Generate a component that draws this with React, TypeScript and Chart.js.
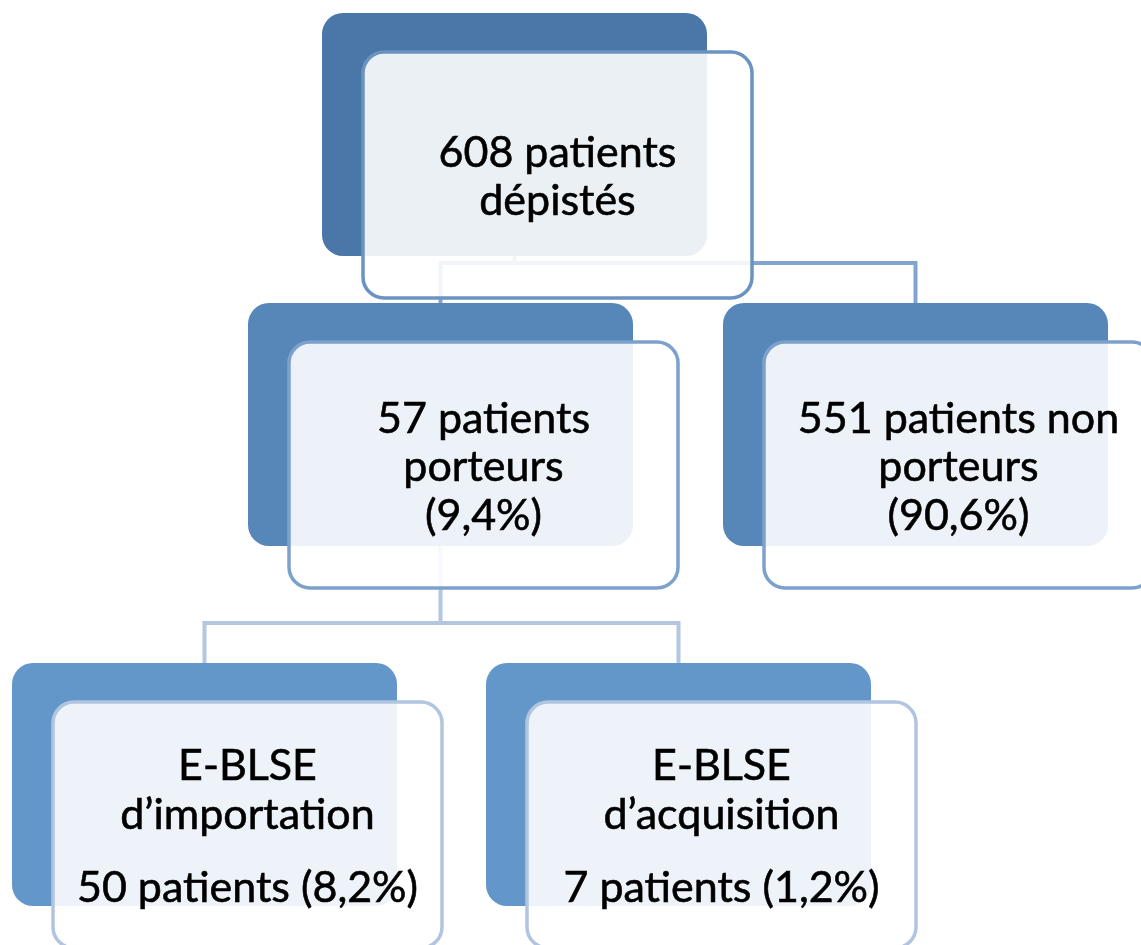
import React, { useEffect, useRef } from 'react';
import { Chart, registerables } from 'chart.js';

Chart.register(...registerables);

// ---------- DATA ----------
const nodeNames = ['dépistés', 'porteurs', 'non porteurs', 'E-BLSE d’importation', 'E-BLSE d’acquisition'];
const patientCounts = [608, 57, 551, 50, 7];
const patientPercents: (number | null)[] = [null, 9.4, 90.6, 8.2, 1.2];
const parentOf = [-1, 0, 0, 1, 1];

const fmtPct = (v: number) => '(' + v.toFixed(1).replace('.', ',') + '%)';

// text lines of each node, built from the data ('' = paragraph gap)
const nodeLines: string[][] = [
  [`${patientCounts[0]} patients`, nodeNames[0]],
  [`${patientCounts[1]} patients`, nodeNames[1], fmtPct(patientPercents[1] as number)],
  [`${patientCounts[2]} patients non`, 'porteurs', fmtPct(patientPercents[2] as number)],
  ['E-BLSE', 'd’importation', '', `${patientCounts[3]} patients ${fmtPct(patientPercents[3] as number)}`],
  ['E-BLSE', 'd’acquisition', '', `${patientCounts[4]} patients ${fmtPct(patientPercents[4] as number)}`],
];

// ---------- LAYOUT / STYLE (kept apart from the data) ----------
const W = 1141;
const H = 945;
const backX = [322, 248, 723, 12, 486];
const backY = [13, 303, 303, 663, 663];
const BACK_W = 385;
const BACK_H = 243;
const FRONT_DX = 41;
const FRONT_DY = 39;
const FRONT_W = 389;
const FRONT_H = 246;
const RADIUS = 21;
const backColors = ['#4a77a7', '#5786b8', '#5786b8', '#6396c9', '#6396c9'];
const frontStroke = ['#6b93c1', '#7da1cb', '#7da1cb', '#b1c5e0', '#b1c5e0'];
const connectorColors = ['#82a5cf', '#b4c6e0'];
const FONT = '43px Lato, "Open Sans", sans-serif';
const LINE_PITCH = 48.5;
const CAP = 30;

function roundRectPath(ctx: CanvasRenderingContext2D, x: number, y: number, w: number, h: number, r: number) {
  ctx.beginPath();
  ctx.moveTo(x + r, y);
  ctx.lineTo(x + w - r, y);
  ctx.arcTo(x + w, y, x + w, y + r, r);
  ctx.lineTo(x + w, y + h - r);
  ctx.arcTo(x + w, y + h, x + w - r, y + h, r);
  ctx.lineTo(x + r, y + h);
  ctx.arcTo(x, y + h, x, y + h - r, r);
  ctx.lineTo(x, y + r);
  ctx.arcTo(x, y, x + r, y, r);
  ctx.closePath();
}

const diagramPlugin = {
  id: 'diagram',
  afterDraw(chart: any) {
    const ctx: CanvasRenderingContext2D = chart.ctx;
    const xs = chart.scales.x;
    const ys = chart.scales.y;
    const px = (v: number) => xs.getPixelForValue(v);
    const py = (v: number) => ys.getPixelForValue(v);
    ctx.save();

    // connectors
    const parents = Array.from(new Set(parentOf.filter((p) => p >= 0)));
    parents.forEach((p, k) => {
      const kids = parentOf.map((q, i) => (q === p ? i : -1)).filter((i) => i >= 0);
      const pcx = backX[p] + BACK_W / 2;
      const pBottom = backY[p] + BACK_H;
      const childTop = Math.min(...kids.map((i) => backY[i]));
      const midY = childTop - 40;
      const xsKids = kids.map((i) => backX[i] + BACK_W / 2);
      const left = Math.min(pcx, ...xsKids) - 2;
      const right = Math.max(pcx, ...xsKids);
      ctx.strokeStyle = connectorColors[k] || connectorColors[0];
      ctx.lineWidth = 4;
      ctx.lineJoin = 'miter';
      ctx.beginPath();
      ctx.moveTo(px(pcx), py(pBottom - 2));
      ctx.lineTo(px(pcx), py(midY));
      ctx.moveTo(px(left), py(midY));
      ctx.lineTo(px(right + 2), py(midY));
      xsKids.forEach((cx, j) => {
        ctx.moveTo(px(cx), py(midY - 2));
        ctx.lineTo(px(cx), py(backY[kids[j]] + 2));
      });
      ctx.stroke();
      // parent centre line continues through the child nodes under the front panes
      kids.forEach((i) => {
        const cx = backX[i] + BACK_W / 2;
        if (parentOf.includes(i)) {
          ctx.beginPath();
          ctx.moveTo(px(cx), py(backY[i]));
          ctx.lineTo(px(cx), py(backY[i] + FRONT_DY + FRONT_H));
          ctx.strokeStyle = connectorColors[k + 1] || connectorColors[0];
          ctx.stroke();
        }
      });
    });

    // nodes
    patientCounts.forEach((_, i) => {
      const bx = px(backX[i]);
      const by = py(backY[i]);
      roundRectPath(ctx, bx, by, px(backX[i] + BACK_W) - bx, py(backY[i] + BACK_H) - by, RADIUS);
      ctx.fillStyle = backColors[i];
      ctx.fill();

      const fx = px(backX[i] + FRONT_DX);
      const fy = py(backY[i] + FRONT_DY);
      const fw = px(backX[i] + FRONT_DX + FRONT_W) - fx;
      const fh = py(backY[i] + FRONT_DY + FRONT_H) - fy;
      roundRectPath(ctx, fx, fy, fw, fh, RADIUS);
      ctx.fillStyle = 'rgba(255,255,255,0.89)';
      ctx.fill();
      ctx.strokeStyle = frontStroke[i];
      ctx.lineWidth = 3.5;
      ctx.stroke();

      // text
      const lines = nodeLines[i];
      let span = 0;
      for (let j = 1; j < lines.length; j++) if (lines[j] !== '') span += LINE_PITCH * (lines[j - 1] === '' ? 1.5 : 1);
      const cy = fy + fh / 2;
      let y = cy + CAP / 2 - span / 2 + 1;
      ctx.fillStyle = '#000000';
      ctx.strokeStyle = '#000000';
      ctx.lineWidth = 0.6;
      ctx.font = FONT;
      ctx.textAlign = 'center';
      ctx.textBaseline = 'alphabetic';
      const cx = fx + fw / 2;
      lines.forEach((l, j) => {
        if (l === '') return;
        if (j > 0) y += LINE_PITCH * (lines[j - 1] === '' ? 1.5 : 1);
        ctx.fillText(l, cx, y);
        ctx.strokeText(l, cx, y);
      });
    });
    ctx.restore();
  },
};

export default function App() {
  const ref = useRef<HTMLCanvasElement>(null);
  useEffect(() => {
    let chart: Chart | null = null;
    let cancelled = false;
    const build = () => {
      if (cancelled || !ref.current) return;
      chart = new Chart(ref.current, {
        type: 'scatter',
        data: { datasets: [{ data: [], showLine: false }] },
        options: {
          responsive: false,
          maintainAspectRatio: false,
          animation: false,
          devicePixelRatio: 1,
          layout: { padding: 0 },
          events: [],
          plugins: { legend: { display: false }, tooltip: { enabled: false } },
          scales: {
            x: { type: 'linear', min: 0, max: W, display: false },
            y: { type: 'linear', min: 0, max: H, reverse: true, display: false },
          },
        },
        plugins: [diagramPlugin],
      });
    };
    const fonts = (document as any).fonts;
    if (fonts && fonts.load) {
      fonts.load(FONT).then(build, build);
    } else build();
    return () => {
      cancelled = true;
      if (chart) chart.destroy();
    };
  }, []);
  return (
    <div style={{ position: 'fixed', left: 0, top: 0, width: W, height: H, background: '#ffffff' }}>
      <canvas ref={ref} width={W} height={H} style={{ display: 'block', width: W, height: H }} />
    </div>
  );
}
